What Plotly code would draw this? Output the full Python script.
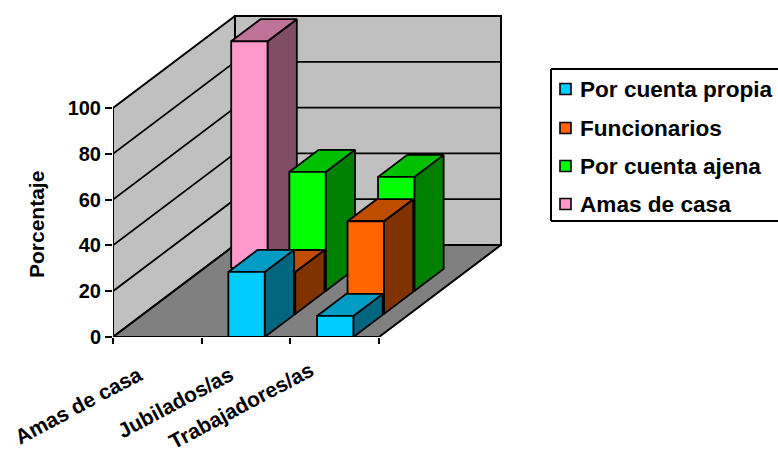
import plotly.graph_objects as go

# Chart data: percentage per category, one list per series (front row first)
categories = ["Amas de casa", "Jubilados/as", "Trabajadores/as"]
series_names = ["Por cuenta propia", "Funcionarios", "Por cuenta ajena", "Amas de casa"]
por_cuenta_propia = [None, 28.4, 9.2]
funcionarios = [None, 18.3, 40.5]
por_cuenta_ajena = [None, 52.0, 49.8]
amas_de_casa = [99.0, None, None]
y_ticks = [0, 20, 40, 60, 80, 100]

series_values = [por_cuenta_propia, funcionarios, por_cuenta_ajena, amas_de_casa]

# (front, top, side) shades per series
SHADES = [
    ("#00CCFF", "#009CC4", "#006680"),
    ("#FF6600", "#BF4D00", "#803300"),
    ("#00FF00", "#00C000", "#008000"),
    ("#FF99CC", "#BF7399", "#804D66"),
]

W, H = 778, 453
LEFT, BASE = 113, 337
CAT_PX = 88.67       # pixels per category
VAL_PX = 2.29        # pixels per percentage point
DEPTH_X = 122 / CAT_PX   # oblique depth vector in axis units
DEPTH_Y = 92 / VAL_PX
BAR_W = 0.41
BAR_DEPTH = 0.24
N_ROWS = len(series_names)
LINE = 1.8


def proj(cat, val, depth):
    """Oblique projection of (category, value, depth 0..1) onto the axes."""
    return cat + depth * DEPTH_X, val + depth * DEPTH_Y


def poly(points, fill, width=LINE):
    xs, ys = zip(*(proj(*p) for p in points))
    return go.Scatter(
        x=list(xs) + [xs[0]], y=list(ys) + [ys[0]], mode="lines", fill="toself",
        fillcolor=fill, line=dict(color="black", width=width),
        cliponaxis=False, hoverinfo="skip", showlegend=False,
    )


def line3d(points, width=LINE):
    xs, ys = zip(*(proj(*p) for p in points))
    return go.Scatter(
        x=list(xs), y=list(ys), mode="lines",
        line=dict(color="black", width=width),
        cliponaxis=False, hoverinfo="skip", showlegend=False,
    )


fig = go.Figure()
n_cat = len(categories)
top_val = y_ticks[-1]

# Walls and floor
fig.add_trace(poly([(0, 0, 0), (0, top_val, 0), (0, top_val, 1), (0, 0, 1)], "#C0C0C0", 2))
fig.add_trace(poly([(0, 0, 1), (0, top_val, 1), (n_cat, top_val, 1), (n_cat, 0, 1)], "#C0C0C0", 2))
fig.add_trace(poly([(0, 0, 0), (0, 0, 1), (n_cat, 0, 1), (n_cat, 0, 0)], "#808080", 2))

# Gridlines run along the side wall and then across the back wall
for v in y_ticks[1:-1]:
    fig.add_trace(line3d([(0, v, 0), (0, v, 1), (n_cat, v, 1)]))

# Bars, painted from the back row to the front row
for row in reversed(range(N_ROWS)):
    d0, d1 = row / N_ROWS, row / N_ROWS + BAR_DEPTH
    front, top, side = SHADES[row]
    for c, v in enumerate(series_values[row]):
        if v is None:
            continue
        x0 = c + (1 - BAR_W) / 2 + 0.006
        x1 = x0 + BAR_W
        fig.add_trace(poly([(x1, 0, d0), (x1, v, d0), (x1, v, d1), (x1, 0, d1)], side))
        fig.add_trace(poly([(x0, v, d0), (x1, v, d0), (x1, v, d1), (x0, v, d1)], top))
        fig.add_trace(poly([(x0, 0, d0), (x0, v, d0), (x1, v, d0), (x1, 0, d0)], front))

FONT = "Liberation Sans"
TXT = dict(family=FONT, size=20, color="black", weight="bold")


def px(x):
    return (x - LEFT) / (W - LEFT)


def py(y):
    return (BASE - y) / BASE


annotations = []
shapes = []

# Axis title
annotations.append(dict(
    text="Porcentaje", textangle=-90, xref="paper", yref="paper",
    x=px(36), y=py(225), xanchor="center", yanchor="middle", showarrow=False,
    font=dict(family=FONT, size=21, color="black", weight="bold"),
))

# Category labels, slanted below the axis
label_centres = [(78, 405), (175, 403), (241, 405)]
for name, (cx, cy) in zip(categories, label_centres):
    annotations.append(dict(
        text=name, textangle=-28, xref="paper", yref="paper",
        x=px(cx), y=py(cy), xanchor="center", yanchor="middle", showarrow=False,
        font=dict(family=FONT, size=21, color="black", weight="bold"),
    ))

# Legend box, running off the right edge of the page
for x0, y0, x1, y1 in [(551, 69, 790, 69), (551, 69, 551, 221), (551, 221, 790, 221)]:
    shapes.append(dict(type="line", xref="paper", yref="paper",
                       x0=px(x0), y0=py(y0), x1=px(x1), y1=py(y1),
                       line=dict(color="black", width=2)))
legend_rows = [89, 128, 166, 204]
for name, shade, ly in zip(series_names, SHADES, legend_rows):
    shapes.append(dict(type="rect", xref="paper", yref="paper",
                       x0=px(560), x1=px(571), y0=py(ly - 5.5), y1=py(ly + 5.5),
                       fillcolor=shade[0], line=dict(color="black", width=1.6)))
    annotations.append(dict(
        text=name, xref="paper", yref="paper", x=px(578), y=py(ly),
        xanchor="left", yanchor="middle", showarrow=False,
        font=dict(family=FONT, size=22.6, color="black", weight="bold"),
    ))

fig.update_layout(
    width=W, height=H, margin=dict(l=LEFT, r=0, t=0, b=H - BASE),
    paper_bgcolor="white", plot_bgcolor="white", showlegend=False,
    annotations=annotations, shapes=shapes,
    xaxis=dict(range=[0, (W - LEFT) / CAT_PX], tickvals=list(range(n_cat + 1)),
               ticktext=[" "] * (n_cat + 1), ticks="outside", ticklen=6,
               tickwidth=1.8, tickcolor="black", showgrid=False, zeroline=False,
               showline=False),
    yaxis=dict(range=[0, BASE / VAL_PX], tickvals=y_ticks, ticks="outside", ticklen=7,
               tickwidth=1.8, tickcolor="black", showgrid=False, zeroline=False,
               showline=False, tickfont=TXT),
)

fig.write_html("out.html", config=dict(displayModeBar=False))
